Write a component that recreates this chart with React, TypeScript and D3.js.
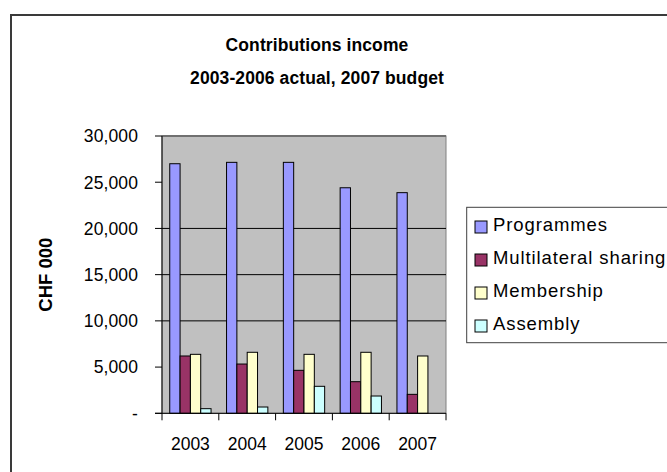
import React from "react";
import * as d3 from "d3";

const years = ["2003", "2004", "2005", "2006", "2007"];
const seriesNames = ["Programmes", "Multilateral sharing", "Membership", "Assembly"];
const programmes = [27000, 27150, 27150, 24400, 23870];
const multilateral = [6200, 5330, 4650, 3420, 2050];
const membership = [6380, 6600, 6380, 6600, 6200];
const assembly = [500, 680, 2920, 1870, 0];
const seriesColors = ["#9999FF", "#993366", "#FFFFCC", "#CCFFFF"];
const yTicks = [0, 5000, 10000, 15000, 20000, 25000, 30000];
const gridTicks = [10000, 15000, 20000];
const titleLines = ["Contributions income", "2003-2006 actual, 2007 budget"];
const yTitle = "CHF 000";

export default function App() {
  const W = 667, H = 472;
  const left = 162, right = 446, top = 136, bottom = 413.3;
  const series = [programmes, multilateral, membership, assembly];

  const x0 = d3.scaleBand<string>().domain(years).range([left, right]).paddingInner(0).paddingOuter(0);
  const bw = x0.bandwidth() / (series.length + 1.5);
  const x1 = d3
    .scaleBand<number>()
    .domain(d3.range(series.length))
    .range([bw * 0.75, bw * 0.75 + bw * series.length]);
  const y = d3.scaleLinear().domain([0, 30000]).range([bottom, top]);
  const fmt = (v: number) => (v === 0 ? "-" : d3.format(",")(v));
  const font = "'Liberation Sans', Arial, sans-serif";

  const boundaries = years.map((yr) => x0(yr) as number).concat([right]);

  return (
    <div style={{ position: "absolute", left: 0, top: 0 }}>
      <svg width={W} height={H} style={{ display: "block", background: "#fff" }} fontFamily={font}>
        <rect x={11} y={15} width={W + 20} height={H + 20} fill="#fff" stroke="#3a3a3a" strokeWidth={2} />
        {titleLines.map((t, i) => (
          <text
            key={t}
            x={317}
            y={50.5 + i * 33}
            textAnchor="middle"
            fontSize={17.5}
            fontWeight="bold"
            letterSpacing={0.1}
            fill="#000"
          >
            {t}
          </text>
        ))}
        <rect x={left} y={top} width={right - left} height={bottom - top} fill="#C0C0C0" stroke="#808080" strokeWidth={1} />
        <line x1={left} x2={right} y1={top} y2={top} stroke="#707070" strokeWidth={2} />
        {gridTicks.map((t) => (
          <line key={t} x1={left} x2={right} y1={y(t)} y2={y(t)} stroke="#000" strokeWidth={1} />
        ))}
        {series.map((vals, si) =>
          vals.map((v, gi) => {
            if (v <= 0) return null;
            const bx = (x0(years[gi]) as number) + (x1(si) as number);
            return (
              <rect
                key={`${si}-${gi}`}
                x={bx}
                y={y(v)}
                width={x1.bandwidth()}
                height={bottom - y(v)}
                fill={seriesColors[si]}
                stroke="#000"
                strokeWidth={1}
              />
            );
          })
        )}
        <line x1={left} x2={left} y1={top} y2={bottom} stroke="#000" strokeWidth={1} />
        <line x1={155} x2={right} y1={bottom} y2={bottom} stroke="#000" strokeWidth={1} />
        {yTicks.map((t) => (
          <g key={t}>
            <line x1={155} x2={left} y1={y(t)} y2={y(t)} stroke="#000" strokeWidth={1} />
            <text x={138} y={y(t) + 6.3} textAnchor="end" fontSize={17.5} letterSpacing={0.1} fill="#000">
              {fmt(t)}
            </text>
          </g>
        ))}
        {boundaries.map((bx, i) => (
          <line key={i} x1={bx} x2={bx} y1={bottom} y2={bottom + 7} stroke="#000" strokeWidth={1} />
        ))}
        {years.map((yr) => (
          <text
            key={yr}
            x={(x0(yr) as number) + x0.bandwidth() / 2}
            y={450}
            textAnchor="middle"
            fontSize={17.5}
            fill="#000"
          >
            {yr}
          </text>
        ))}
        <text
          transform={`translate(52,${(top + bottom) / 2}) rotate(-90)`}
          textAnchor="middle"
          fontSize={18.5}
          fontWeight="bold"
          fill="#000"
        >
          {yTitle}
        </text>
        <rect x={466.7} y={207.3} width={260} height={135.4} fill="#fff" stroke="#404040" strokeWidth={1} />
        {seriesNames.map((name, i) => (
          <g key={name}>
            <rect x={475} y={221 + i * 33} width={12} height={12} fill={seriesColors[i]} stroke="#000" strokeWidth={1} />
            <text x={493} y={231 + i * 33} fontSize={18.5} letterSpacing={0.9} fill="#000">
              {name}
            </text>
          </g>
        ))}
      </svg>
    </div>
  );
}
